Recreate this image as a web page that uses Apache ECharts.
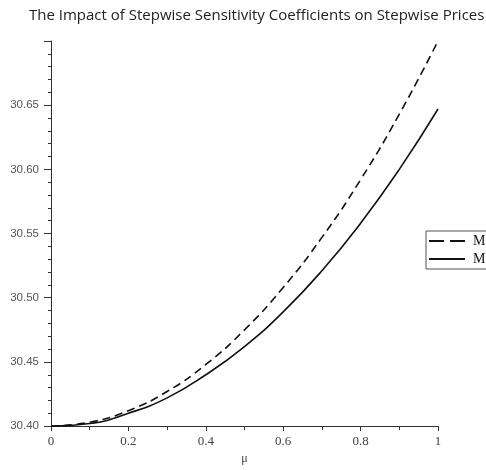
<!DOCTYPE html>
<html>
<head>
<meta charset="utf-8">
<script src="https://cdn.jsdelivr.net/npm/echarts@6/dist/echarts.min.js"></script>
<style>
  html, body { margin: 0; padding: 0; background: #fff; }
  #chart { width: 486px; height: 470px; }
</style>
</head>
<body>
<div id="chart"></div>
<script>
// step sensitivity coefficient μ
const mu = [0, 0.1, 0.2, 0.3, 0.4, 0.5, 0.6, 0.7, 0.8, 0.9, 1.0];
// step prices for the two settings
const priceDashed = [30.400, 30.403, 30.412, 30.427, 30.448, 30.475, 30.508, 30.547, 30.592, 30.643, 30.700];
const priceSolid  = [30.400, 30.402, 30.410, 30.422, 30.440, 30.462, 30.489, 30.521, 30.558, 30.600, 30.647];
const seriesNames = ['Method 1', 'Method 2'];
const yTicks = [30.40, 30.45, 30.50, 30.55, 30.60, 30.65];

const pairs = (xs, ys) => xs.map((x, i) => [x, ys[i]]);

const chart = echarts.init(document.getElementById('chart'), null, { renderer: 'canvas' });
chart.setOption({
  animation: false,
  backgroundColor: '#ffffff',
  title: {
    text: 'The Impact of Stepwise Sensitivity Coefficients on Stepwise Prices',
    left: 24, top: 3,
    textStyle: { fontFamily: 'Open Sans', fontSize: 15, fontWeight: 'normal', color: '#222' }
  },
  legend: {
    left: 426, top: 231,
    orient: 'vertical',
    data: [
      { name: seriesNames[0], icon: 'path://M0,0 L15,0 L15,2 L0,2 Z M21,0 L36,0 L36,2 L21,2 Z' },
      { name: seriesNames[1], icon: 'rect' }
    ],
    itemWidth: 36, itemHeight: 2, itemGap: 4,
    padding: [3, 4, 3, 3],
    borderColor: '#555', borderWidth: 1,
    textStyle: { fontFamily: 'Liberation Serif', fontSize: 14, color: '#111', padding: [0, 0, 0, 3] }
  },
  grid: { left: 51, right: 48, top: 41, bottom: 39 },
  xAxis: {
    type: 'value', min: 0, max: 1, interval: 0.2,
    name: 'μ', nameLocation: 'middle', nameGap: 26,
    nameTextStyle: { fontFamily: 'Liberation Serif', fontSize: 12, color: '#444' },
    axisLine: { lineStyle: { color: '#333', width: 1 } },
    axisTick: { show: true, length: 5, lineStyle: { color: '#333' } },
    minorTick: { show: true, splitNumber: 2, length: 4, lineStyle: { color: '#333' } },
    splitLine: { show: false },
    axisLabel: {
      fontFamily: 'Liberation Serif', fontSize: 13, color: '#444', margin: 9,
      formatter: v => (v === 0 || v === 1) ? String(v) : v.toFixed(1)
    }
  },
  yAxis: {
    type: 'value', min: 30.40, max: 30.70, interval: 0.05,
    axisLine: { show: true, lineStyle: { color: '#333', width: 1 } },
    axisTick: { show: true, length: 7, lineStyle: { color: '#333' } },
    minorTick: { show: true, splitNumber: 5, length: 3, lineStyle: { color: '#333' } },
    splitLine: { show: false },
    axisLabel: {
      fontFamily: 'Liberation Sans', fontSize: 11.5, color: '#555', margin: 12,
      showMaxLabel: false,
      formatter: v => {
        const t = yTicks.find(k => Math.abs(k - v) < 1e-6);
        return t === undefined ? '' : t.toFixed(2);
      }
    }
  },
  series: [
    {
      name: seriesNames[0], type: 'line', smooth: true, showSymbol: false,
      data: pairs(mu, priceDashed),
      itemStyle: { color: '#111' },
      lineStyle: { color: '#111', width: 1.6, type: [8, 5] }
    },
    {
      name: seriesNames[1], type: 'line', smooth: true, showSymbol: false,
      data: pairs(mu, priceSolid),
      itemStyle: { color: '#111' },
      lineStyle: { color: '#111', width: 1.6 }
    }
  ]
});
</script>
</body>
</html>
